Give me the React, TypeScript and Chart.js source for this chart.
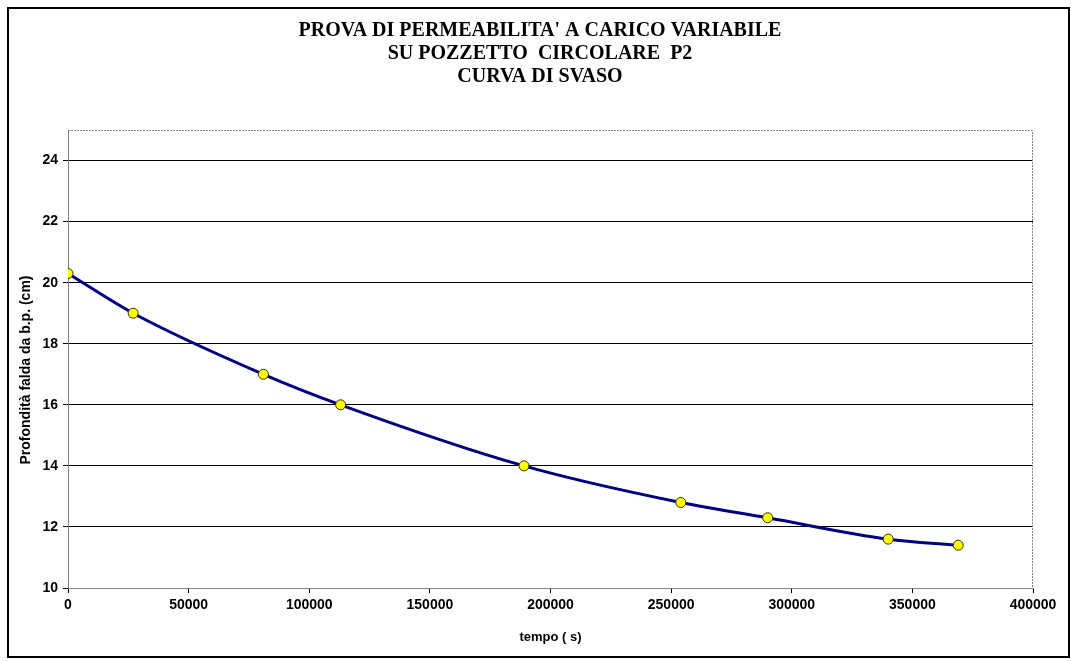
import React, { useEffect, useRef } from "react";
import { Chart, registerables } from "chart.js";

Chart.register(...registerables);

const titleLines = [
  "PROVA DI PERMEABILITA' A CARICO VARIABILE",
  "SU POZZETTO  CIRCOLARE  P2",
  "CURVA DI SVASO",
];
const timeSeconds = [0, 27000, 81000, 113000, 189000, 254000, 290000, 340000, 369000];
const depthCm = [20.3, 19.0, 17.0, 16.0, 14.0, 12.8, 12.3, 11.6, 11.4];
const xTitle = "tempo ( s)";
const yTitle = "Profondità falda da b.p. (cm)";

const framePlugin = {
  id: "frameAndTitle",
  beforeDraw(chart: any) {
    const ctx = chart.ctx;
    ctx.save();
    ctx.fillStyle = "#ffffff";
    ctx.fillRect(0, 0, chart.width, chart.height);
    ctx.restore();
  },
  afterDraw(chart: any) {
    const ctx = chart.ctx;
    const a = chart.chartArea;
    ctx.save();
    // outer frame
    ctx.strokeStyle = "#000000";
    ctx.lineWidth = 2;
    ctx.strokeRect(8, 8, 1061, 649);
    // plot area dotted top/right
    ctx.strokeStyle = "#808080";
    ctx.lineWidth = 1;
    ctx.setLineDash([2, 1]);
    ctx.beginPath();
    ctx.moveTo(a.left, a.top + 0.5);
    ctx.lineTo(a.right - 0.5, a.top + 0.5);
    ctx.lineTo(a.right - 0.5, a.bottom);
    ctx.stroke();
    ctx.setLineDash([]);
    // title
    ctx.fillStyle = "#000000";
    ctx.font = "bold 20px 'Liberation Serif', 'Times New Roman', serif";
    ctx.textAlign = "center";
    ctx.textBaseline = "middle";
    titleLines.forEach((t, i) => ctx.fillText(t, 540, 31 + i * 23));
    // y axis title
    ctx.font = "bold 14px 'Liberation Sans', Arial, sans-serif";
    ctx.translate(26, 370);
    ctx.rotate(-Math.PI / 2);
    ctx.fillText(yTitle, 0, 0);
    ctx.restore();
  },
};

export default function App() {
  const ref = useRef<HTMLCanvasElement>(null);
  useEffect(() => {
    if (!ref.current) return;
    const chart = new Chart(ref.current, {
      type: "line",
      data: {
        datasets: [
          {
            data: timeSeconds.map((t, i) => ({ x: t, y: depthCm[i] })),
            borderColor: "#000080",
            borderWidth: 3,
            cubicInterpolationMode: "monotone",
            pointRadius: 5,
            pointBackgroundColor: "#ffff00",
            pointBorderColor: "#333300",
            pointBorderWidth: 1,
            fill: false,
          },
        ],
      },
      plugins: [framePlugin],
      options: {
        animation: false,
        responsive: false,
        devicePixelRatio: 1,
        layout: { padding: { top: 130, right: 38, left: 0, bottom: 0 } },
        plugins: {
          legend: { display: false },
          title: { display: false },
          tooltip: { enabled: false },
        },
        scales: {
          x: {
            type: "linear",
            min: 0,
            max: 400000,
            afterFit: (s: any) => {
              s.height = 73;
            },
            ticks: {
              stepSize: 50000,
              color: "#000000",
              padding: 4,
              maxRotation: 0,
              font: { family: "'Liberation Sans', Arial, sans-serif", size: 14, weight: "bold" },
              callback: (v: any) => String(v),
            },
            grid: {
              drawOnChartArea: false,
              drawTicks: true,
              tickLength: 5,
              color: "#000000",
            },
            border: { color: "#808080", width: 1 },
            title: {
              display: true,
              text: xTitle,
              color: "#000000",
              font: { family: "'Liberation Sans', Arial, sans-serif", size: 13, weight: "bold" },
              padding: { top: 0, bottom: 16 },
            },
          },
          y: {
            type: "linear",
            min: 10,
            max: 25,
            afterFit: (s: any) => {
              s.width = 68;
            },
            ticks: {
              stepSize: 2,
              includeBounds: false,
              color: "#000000",
              padding: 5,
              font: { family: "'Liberation Sans', Arial, sans-serif", size: 14, weight: "bold" },
            },
            grid: {
              color: "#000000",
              lineWidth: 1,
              tickLength: 5,
              drawTicks: true,
            },
            border: { color: "#808080", width: 1 },
            title: { display: false },
          },
        },
      },
    } as any);
    return () => chart.destroy();
  }, []);
  return (
    <div style={{ position: "absolute", left: 0, top: 0, width: 1071, height: 661 }}>
      <canvas ref={ref} width={1071} height={661} style={{ display: "block", width: 1071, height: 661 }} />
    </div>
  );
}
